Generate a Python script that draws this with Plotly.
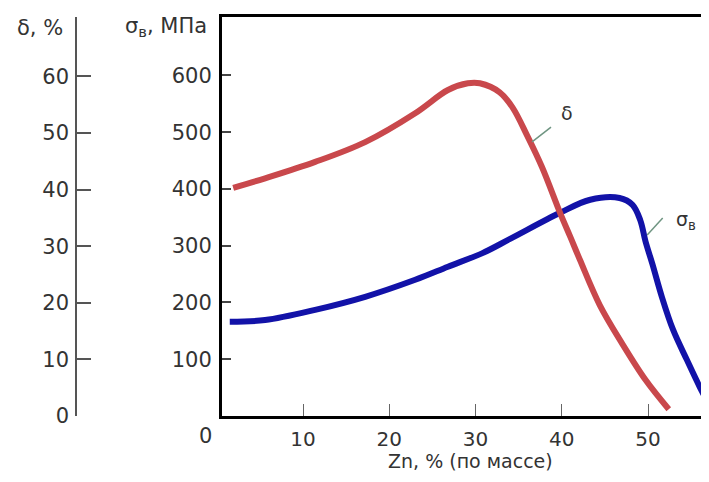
import plotly.graph_objects as go

# Zn content, % (mass) and properties
zn_delta = [1.9, 5.6, 11.4, 17.2, 23.0, 26.8, 29.1, 30.5, 32.8, 34.3, 36.0, 37.7, 39.8, 41.0, 42.1, 44.4, 47.0, 49.7, 52.4]
delta = [40.3, 42.0, 44.9, 48.4, 53.5, 57.6, 58.8, 58.8, 57.2, 54.5, 49.5, 44.0, 35.9, 31.6, 27.6, 19.6, 12.8, 6.4, 1.2]

zn_sigma = [1.5, 5.6, 11.4, 17.2, 23.0, 26.8, 30.8, 34.0, 39.8, 43.3, 46.7, 48.2, 49.1, 49.7, 50.5, 51.6, 52.9, 54.5, 56.0, 56.9]
sigma = [166, 169, 187, 210, 240, 263, 287, 312, 358, 381, 384, 372, 345, 308, 268, 210, 152, 99, 51, 25]

x_ticks = [10, 20, 30, 40, 50]
sigma_ticks = [100, 200, 300, 400, 500, 600]
delta_ticks = [0, 10, 20, 30, 40, 50, 60]

FONT = "DejaVu Sans"
TXT = "#333333"
OFF = 8  # page body margin, so the figure starts 8px in
W, H = 709 - 2 * OFF, 482 - 2 * OFF
L, R, T, B = 52, 0, 17 - OFF, H - (416 - OFF)
PW, PH = W - L - R, H - T - B


# screen pixel -> paper fraction
def px(x):
    return (x - OFF - L) / PW


def py(y):
    return (416 - y) / PH


fig = go.Figure()
fig.add_trace(go.Scatter(x=zn_delta, y=delta, yaxis="y2", mode="lines",
                         line=dict(color="#c9484c", width=6, shape="spline"),
                         hoverinfo="skip"))
fig.add_trace(go.Scatter(x=zn_sigma, y=sigma, mode="lines",
                         line=dict(color="#1212a8", width=6, shape="spline"),
                         hoverinfo="skip"))

fig.update_layout(
    width=W, height=H,
    margin=dict(l=L, r=R, t=T, b=B),
    plot_bgcolor="white", paper_bgcolor="white",
    showlegend=False,
    font=dict(family=FONT, size=20, color=TXT),
    xaxis=dict(domain=[px(222), 1], range=[0.6, 56.14],
               tickvals=x_ticks, ticks="inside", ticklen=12, tickcolor="#666", tickwidth=1,
               showline=True, linecolor="black", linewidth=3, mirror=True,
               showgrid=False, zeroline=False, ticklabelstandoff=3,
               tickfont=dict(size=20)),
    yaxis=dict(range=[0, 703], tickvals=sigma_ticks, ticks="inside", ticklen=9,
               tickcolor="#444", tickwidth=1.5,
               showline=True, linecolor="black", linewidth=3,
               showgrid=False, zeroline=False, ticklabelstandoff=3,
               tickfont=dict(size=21)),
    yaxis2=dict(range=[0, 70.5], overlaying="y", anchor="free", position=px(76),
                tickvals=delta_ticks + [70.5], ticktext=[str(v) for v in delta_ticks] + [""],
                ticks="inside", ticklen=14, tickcolor="#555", tickwidth=1.5,
                showline=True, linecolor="#555", linewidth=1.5,
                showgrid=False, zeroline=False, ticklabelstandoff=2,
                tickfont=dict(size=21)),
)

ann = [
    dict(x=px(40), y=py(28), text="δ, %", size=21),
    dict(x=px(166), y=py(27), text="σ<sub>в</sub>, МПа", size=21),
    dict(x=px(205), y=py(436), text="0", size=21),
    dict(x=px(470), y=py(461), text="Zn, % (по массе)", size=19),
]
for a in ann:
    fig.add_annotation(xref="paper", yref="paper", showarrow=False,
                       xanchor="center", yanchor="middle", x=a["x"], y=a["y"], text=a["text"],
                       font=dict(family=FONT, size=a["size"], color=TXT))

fig.add_annotation(x=40.6, y=534, xref="x", yref="y", text="δ", showarrow=False,
                   font=dict(family=FONT, size=19, color=TXT))
fig.add_annotation(x=54.4, y=345, xref="x", yref="y", text="σ<sub>в</sub>", showarrow=False,
                   font=dict(family=FONT, size=19, color=TXT))

fig.add_shape(type="line", xref="x", yref="y", x0=36.55, y0=483, x1=38.75, y1=509,
              line=dict(color="#6f9582", width=1.5))
fig.add_shape(type="line", xref="x", yref="y", x0=49.9, y0=319, x1=51.7, y1=349,
              line=dict(color="#6f9582", width=1.5))

fig.write_html("out.html")
